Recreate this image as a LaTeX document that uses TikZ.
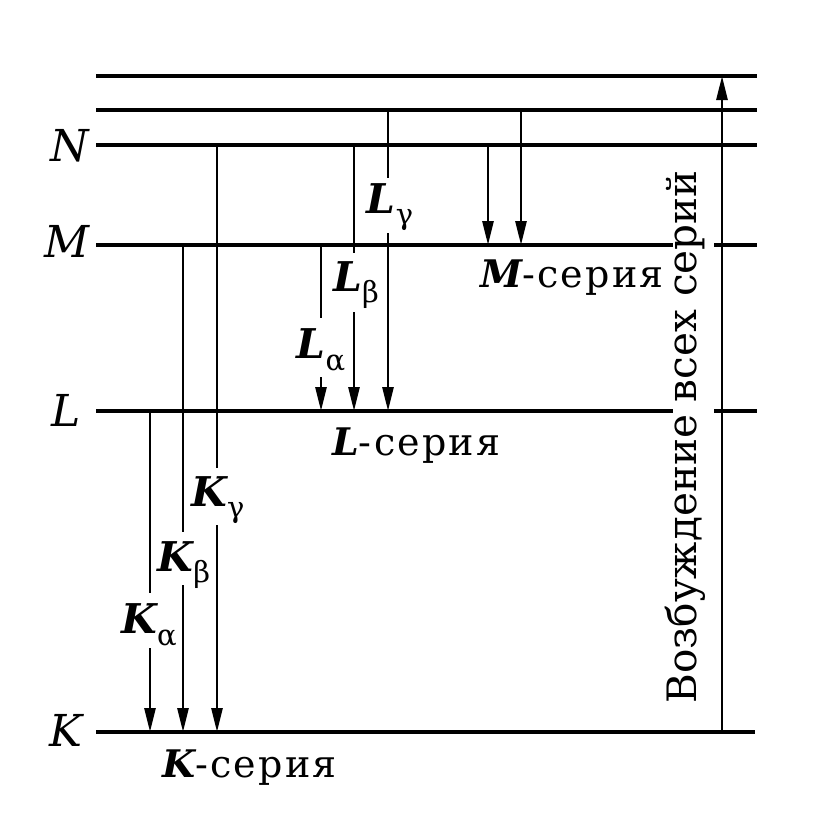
\documentclass[tikz,border=0pt]{standalone}
\usepackage{fontspec}
\setmainfont{DejaVu Serif}
\newfontfamily\serfont[LetterSpace=6]{DejaVu Serif}
\usetikzlibrary{arrows.meta}
\newcommand{\grsub}[1]{\raisebox{-0.28em}{\fontsize{29}{29}\selectfont\upshape\mdseries #1}}
\tikzset{
  levelline/.style={line width=4.6pt},
  trans/.style={line width=2.8pt,-{Triangle[length=24pt,width=11pt]}},
  stem/.style={line width=2.8pt},
  lvl/.style={font=\fontsize{44}{44}\selectfont\itshape, inner sep=0pt},
  lab/.style={font=\fontsize{41}{41}\selectfont\bfseries\itshape, inner sep=0pt},
  ser/.style={font=\fontsize{38}{38}\serfont, inner sep=0pt, anchor=base west},
}
\begin{document}
\begin{tikzpicture}[x=1pt,y=-1pt]
\useasboundingbox (0,0) rectangle (832,820);
% level line ends
\coordinate (T1a) at (96,76);  \coordinate (T1b) at (757,76);
\coordinate (T2a) at (96,110); \coordinate (T2b) at (757,110);
\coordinate (Na) at (96,145);  \coordinate (Nb) at (757,145);
\coordinate (Ma) at (96,245);  \coordinate (Mg1) at (673,245);
\coordinate (Mg2) at (714,245); \coordinate (Mb) at (757,245);
\coordinate (La) at (96,411);  \coordinate (Lg1) at (673,411);
\coordinate (Lg2) at (714,411); \coordinate (Lb) at (757,411);
\coordinate (Ka) at (96,732);  \coordinate (Kb) at (755,732);
\draw[levelline] (T1a) -- (T1b);
\draw[levelline] (T2a) -- (T2b);
\draw[levelline] (Na) -- (Nb);
\draw[levelline] (Ma) -- (Mg1);
\draw[levelline] (Mg2) -- (Mb);
\draw[levelline] (La) -- (Lg1);
\draw[levelline] (Lg2) -- (Lb);
\draw[levelline] (Ka) -- (Kb);
% level labels
\node[lvl] (labN) at (70,146) {N};
\node[lvl] (labM) at (67,241) {M};
\node[lvl] (labL) at (66,410) {L};
\node[lvl] (labK) at (66,730) {K};
% L series
\coordinate (Lg0) at (388,110); \coordinate (Lgt) at (388,178);
\coordinate (Lgb) at (388,233); \coordinate (Lge) at (388,411);
\node[lab] (Lglab) at (390,207) {L\grsub{γ}};
\draw[stem] (Lg0) -- (Lgt);
\draw[trans] (Lgb) -- (Lge);
\coordinate (Lb0) at (354,145); \coordinate (Lbt) at (354,253);
\coordinate (Lbb) at (354,312); \coordinate (Lbe) at (354,411);
\node[lab] (Lblab) at (356,285) {L\grsub{β}};
\draw[stem] (Lb0) -- (Lbt);
\draw[trans] (Lbb) -- (Lbe);
\coordinate (La0) at (321,245); \coordinate (Lat) at (321,318);
\coordinate (Lab) at (321,377); \coordinate (Lae) at (321,411);
\node[lab] (Lalab) at (321,350) {L\grsub{α}};
\draw[stem] (La0) -- (Lat);
\draw[trans] (Lab) -- (Lae);
% M series
\coordinate (M10) at (488,145); \coordinate (M1e) at (488,245);
\coordinate (M20) at (521,110); \coordinate (M2e) at (521,245);
\draw[trans] (M10) -- (M1e);
\draw[trans] (M20) -- (M2e);
% K series
\coordinate (Ka0) at (150,411); \coordinate (Kat) at (150,593);
\coordinate (Kab) at (150,648); \coordinate (Kae) at (150,732);
\node[lab] (Kalab) at (149,625) {K\grsub{α}};
\draw[stem] (Ka0) -- (Kat);
\draw[trans] (Kab) -- (Kae);
\coordinate (Kb0) at (183,245); \coordinate (Kbt) at (183,532);
\coordinate (Kbb) at (183,585); \coordinate (Kbe) at (183,732);
\node[lab] (Kblab) at (184,565) {K\grsub{β}};
\draw[stem] (Kb0) -- (Kbt);
\draw[trans] (Kbb) -- (Kbe);
\coordinate (Kg0) at (217,145); \coordinate (Kgt) at (217,468);
\coordinate (Kgb) at (217,525); \coordinate (Kge) at (217,732);
\node[lab] (Kglab) at (218,500) {K\grsub{γ}};
\draw[stem] (Kg0) -- (Kgt);
\draw[trans] (Kgb) -- (Kge);
% excitation
\coordinate (Ex0) at (722,732); \coordinate (Ex1) at (722,76);
\draw[trans] (Ex0) -- (Ex1);
\node[rotate=90, anchor=base, inner sep=0pt, font=\fontsize{40.5}{40.5}\selectfont] (exc) at (696,437) {Возбуждение всех серий};
% series names
\node[ser] (Mser) at (480,287) {{\bfseries\itshape M}-серия};
\node[ser] (Lser) at (332,455) {{\bfseries\itshape L}-серия};
\node[ser] (Kser) at (162,777) {{\bfseries\itshape K}-серия};
\end{tikzpicture}
\end{document}
